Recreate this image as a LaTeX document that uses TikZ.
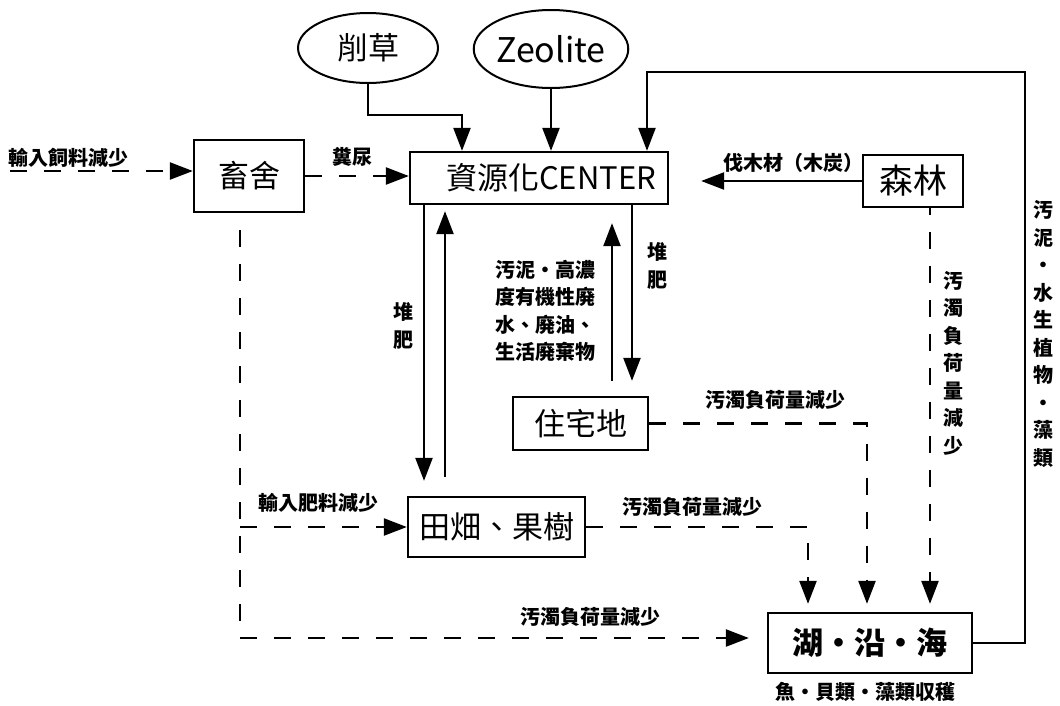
\documentclass[tikz,border=0pt]{standalone}
\usepackage{fontspec}
\setmainfont{Noto Sans CJK TC}
\usetikzlibrary{arrows.meta,shapes.geometric}
\tikzset{
  box/.style={draw, line width=2.3pt, inner sep=0pt, font=\fontsize{31}{31}\selectfont},
  oval/.style={draw, ellipse, line width=2pt, inner sep=0pt},
  lbl/.style={font=\fontsize{20}{27.5}\selectfont\bfseries, inner sep=0pt},
  conn/.style={line width=2.3pt, -{Triangle[length=23pt,width=17pt]}},
  dconn/.style={conn, dash pattern=on 17pt off 17pt},
}
\begin{document}
\begin{tikzpicture}[x=1pt,y=-1pt]
\useasboundingbox (0,0) rectangle (1060,705);
% nodes
\node[oval, minimum width=140pt, minimum height=70pt, font=\fontsize{31}{31}\selectfont] (grass) at (368,48) {削草};
\node[oval, minimum width=152pt, minimum height=78pt, font=\fontsize{34}{34}\selectfont] (zeo) at (551,49) {Zeolite};
\node[box, minimum width=110pt, minimum height=72pt] (barn) at (249,176) {畜舍};
\node[box, minimum width=258pt, minimum height=52pt] (ctr) at (539,178) {\hspace*{24pt}資源化CENTER};
\node[box, minimum width=100pt, minimum height=52pt, font=\fontsize{34}{34}\selectfont] (forest) at (913,181) {森林};
\node[box, minimum width=135pt, minimum height=53pt] (house) at (580.5,423.5) {住宅地};
\node[box, minimum width=177pt, minimum height=60pt] (field) at (496.5,527) {田畑、果樹};
\node[box, minimum width=204pt, minimum height=60pt, font=\fontsize{31}{31}\selectfont\bfseries] (lake) at (870,643) {湖・沿・海};
% connectors
\draw[conn] (grass.south) |- (462,115) -- (462,0 |- ctr.north);
\draw[conn] (zeo.south) -- (zeo.south |- ctr.north);
\draw[conn] (lake.east) -| (1025,72) -| (647,0 |- ctr.north);
\draw[conn, shorten >=32pt] (forest.west) -- (forest.west -| ctr.east);
\coordinate (feedin) at (10,171);
\draw[dconn] (feedin) -- (feedin -| barn.west);
\draw[dconn] (barn.east) -- (barn.east -| ctr.west);
\draw[conn, shorten >=15pt] (424,0 |- ctr.south) -- (424,0 |- field.north);
\draw[conn, shorten <=19pt, shorten >=6pt] (445,0 |- field.north) -- (445,0 |- ctr.south);
\draw[conn, shorten <=15pt, shorten >=18pt] (612,0 |- house.north) -- (612,0 |- ctr.south);
\draw[conn, shorten >=15pt] (632,0 |- ctr.south) -- (632,0 |- house.north);
\draw[dconn, dash phase=17pt, shorten >=18pt] (240,0 |- barn.south) -- (240,638) -- (240,638 -| lake.west);
\draw[dconn] (240,0 |- field.west) -- (field.west);
\draw[dconn, shorten >=8pt] (field.east) -| (808,0 |- lake.north);
\draw[dconn, shorten >=8pt] (house.east) -| (867,0 |- lake.north);
\draw[dconn, dash phase=10pt, shorten >=8pt] (930,0 |- forest.south) -- (930,0 |- lake.north);
% labels
\node[lbl] (tfeed) at (69,158) {輸入飼料減少};
\node[lbl] (tdung) at (352,157) {糞尿};
\node[lbl] (twood) at (793,163) {伐木材（木炭）};
\node[lbl, align=center] (tcomp1) at (403,326) {堆\\肥};
\node[lbl, align=center] (tcomp2) at (657,266) {堆\\肥};
\node[lbl, align=left] (tsludge) at (545,311) {汚泥・高濃\\度有機性廃\\水、廃油、\\生活廃棄物};
\node[lbl] (thouse) at (775,400) {汚濁負荷量減少};
\node[lbl] (tfield) at (692,507) {汚濁負荷量減少};
\node[lbl] (tbarn) at (590,617) {汚濁負荷量減少};
\node[lbl] (tfert) at (318,503) {輸入肥料減少};
\node[lbl, align=center] (tforest) at (953,363) {汚\\濁\\負\\荷\\量\\減\\少};
\node[lbl, align=center] (tback) at (1043,334) {汚\\泥\\・\\水\\生\\植\\物\\・\\藻\\類};
\node[lbl] (tharvest) at (865,692) {魚・貝類・藻類収穫};
\end{tikzpicture}
\end{document}
